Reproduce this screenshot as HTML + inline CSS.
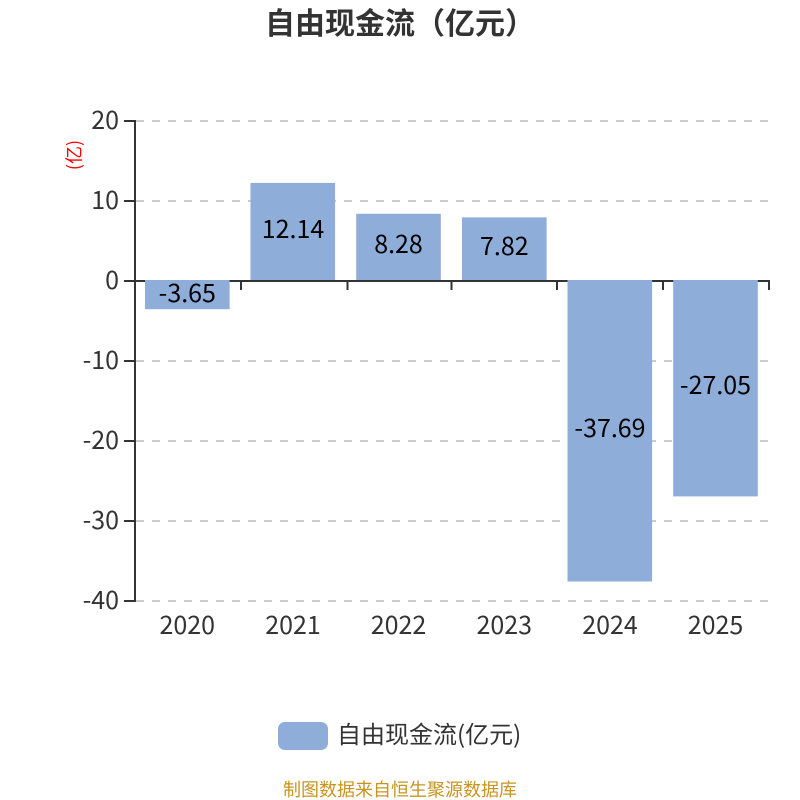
<!DOCTYPE html>
<html>
<head>
<meta charset="utf-8">
<style>
html,body{margin:0;padding:0;background:#fff;width:800px;height:800px;overflow:hidden}
svg{display:block}
text{font-family:"Noto Sans CJK SC","Liberation Sans",sans-serif}
</style>
</head>
<body>
<svg width="800" height="800" viewBox="0 0 800 800" xmlns="http://www.w3.org/2000/svg">
<rect width="800" height="800" fill="#fff"/>
<text x="400" y="34" font-size="30" font-weight="700" fill="#333" text-anchor="middle">自由现金流（亿元）</text>

<g stroke="#ccc" stroke-width="2" stroke-dasharray="8 8" fill="none">
<path d="M136 121H769"/>
<path d="M136 201H769"/>
<path d="M136 361H769"/>
<path d="M136 441H769"/>
<path d="M136 521H769"/>
<path d="M136 601H769"/>
</g>

<g stroke="#333" stroke-width="2" fill="none">
<path d="M135 120V602"/>
<path d="M124 121H135M124 201H135M124 281H135M124 361H135M124 441H135M124 521H135M124 601H135"/>
<path d="M135 281H770"/>
<path d="M241 281V290M347.500 281V290M451.500 281V290M557 281V290M663 281V290M769 281V290"/>
</g>

<g fill="#8eadd9">
<rect x="145" y="280" width="84.600" height="29.200"/>
<rect x="250.500" y="182.900" width="84.600" height="97.100"/>
<rect x="356.200" y="213.800" width="84.600" height="66.200"/>
<rect x="462" y="217.400" width="84.600" height="62.600"/>
<rect x="567.500" y="280" width="84.600" height="301.500"/>
<rect x="673.200" y="280" width="84.600" height="216.400"/>
</g>

<g font-size="25" fill="#000" text-anchor="middle">
<text x="187.300" y="302">-3.65</text>
<text x="293" y="238">12.14</text>
<text x="398.500" y="253">8.28</text>
<text x="504.300" y="255">7.82</text>
<text x="610" y="437">-37.69</text>
<text x="715.500" y="394">-27.05</text>
</g>

<g font-size="25" fill="#333" text-anchor="end">
<text x="119" y="129">20</text>
<text x="119" y="209">10</text>
<text x="119" y="289">0</text>
<text x="119" y="369">-10</text>
<text x="119" y="449">-20</text>
<text x="119" y="529">-30</text>
<text x="119" y="609">-40</text>
</g>

<g font-size="25" fill="#333" text-anchor="middle">
<text x="187.300" y="634">2020</text>
<text x="293" y="634">2021</text>
<text x="398.500" y="634">2022</text>
<text x="504.300" y="634">2023</text>
<text x="610" y="634">2024</text>
<text x="715.500" y="634">2025</text>
</g>

<text transform="translate(73.500 155) rotate(-90)" font-size="18" fill="#f00" text-anchor="middle" dominant-baseline="central">(亿)</text>

<rect x="278" y="722" width="50" height="28" rx="7" fill="#8eadd9"/>
<text x="337" y="743" font-size="24" fill="#333">自由现金流(亿元)</text>
<text x="400" y="796" font-size="18" fill="#c7941f" text-anchor="middle">制图数据来自恒生聚源数据库</text>
</svg>
</body>
</html>
